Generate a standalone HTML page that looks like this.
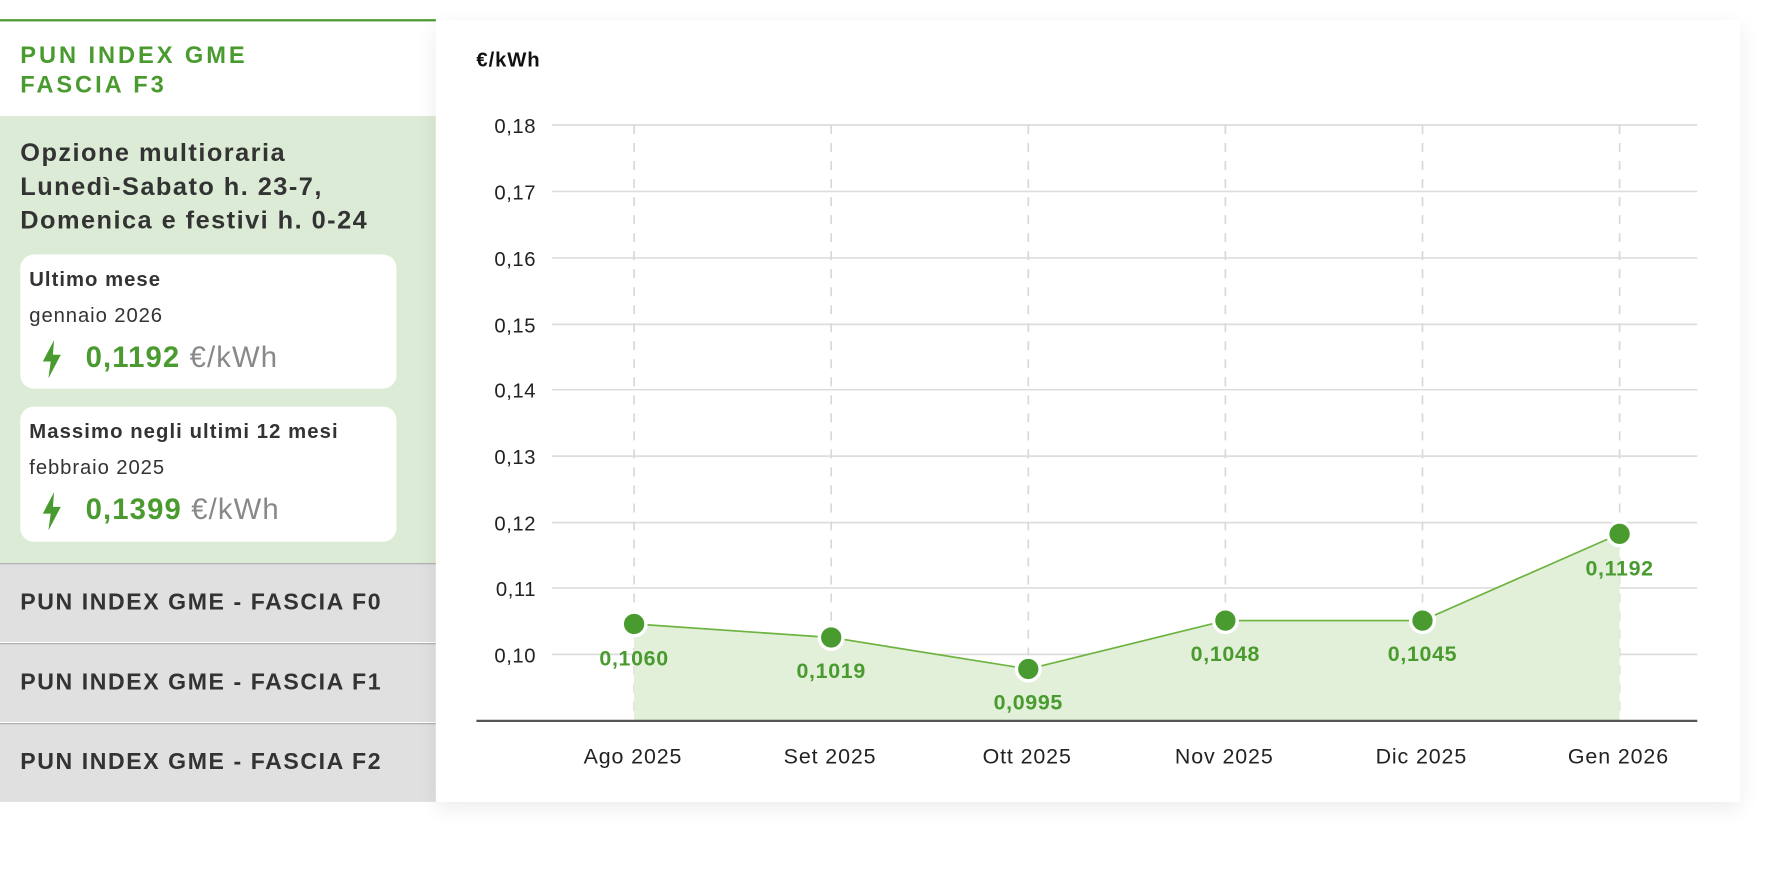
<!DOCTYPE html>
<html><head><meta charset="utf-8"><style>
html,body{margin:0;padding:0;width:1766px;height:882px;overflow:hidden;background:#fff;font-family:"Liberation Sans",sans-serif}
#w{position:absolute;left:0;top:0;width:1568px;height:783px;transform:scale(1.12628);transform-origin:0 0}
.a{position:absolute}
.t{font-weight:bold;color:#333}
.card{position:absolute;left:18px;width:334px;background:#fff;border-radius:12px}
.row{position:absolute;left:0;width:387px;height:70px;background:#e0e0e0;border-top:1.5px solid #aaa;box-sizing:border-box}
.row div{position:absolute;left:18px;top:22px;font-size:20.5px;font-weight:bold;color:#333;letter-spacing:1.4px}
</style></head><body><div id="w">
<div class="a" style="left:0;top:17px;width:387px;height:2px;background:#4a9b2f"></div>
<div class="a" style="left:18px;top:37px;font-size:21px;font-weight:bold;color:#4a9b2f;letter-spacing:2.6px;line-height:26px">PUN INDEX GME<br>FASCIA F3</div>
<div class="a" style="left:0;top:103px;width:387px;height:397px;background:#dcebd6"></div>
<div class="a t" style="left:18px;top:121px;font-size:22.5px;line-height:30px;letter-spacing:1.3px">Opzione multioraria<br>Lunedì-Sabato h. 23-7,<br>Domenica e festivi h. 0-24</div>
<div class="card" style="top:226px;height:119px">
<div class="a t" style="left:8px;top:12px;font-size:18px;letter-spacing:0.9px">Ultimo mese</div>
<div class="a" style="left:8px;top:44px;font-size:18px;color:#333;letter-spacing:0.8px">gennaio 2026</div>
<svg class="a" style="left:18px;top:76px" width="20" height="34" viewBox="0 0 20 34"><path d="M12 0 L2 19 H9 L7 34 L18 13 H11 Z" fill="#4a9b2f"/></svg>
<div class="a" style="left:58px;top:76px;font-size:26px;color:#888;letter-spacing:1px"><b style="color:#4a9b2f">0,1192</b> €/kWh</div>
</div>
<div class="card" style="top:361px;height:120px">
<div class="a t" style="left:8px;top:12px;font-size:18px;letter-spacing:0.95px">Massimo negli ultimi 12 mesi</div>
<div class="a" style="left:8px;top:44px;font-size:18px;color:#333;letter-spacing:0.8px">febbraio 2025</div>
<svg class="a" style="left:18px;top:76px" width="20" height="34" viewBox="0 0 20 34"><path d="M12 0 L2 19 H9 L7 34 L18 13 H11 Z" fill="#4a9b2f"/></svg>
<div class="a" style="left:58px;top:76px;font-size:26px;color:#888;letter-spacing:1px"><b style="color:#4a9b2f">0,1399</b> €/kWh</div>
</div>
<div class="row" style="top:500px"><div>PUN INDEX GME - FASCIA F0</div></div>
<div class="row" style="top:571px"><div>PUN INDEX GME - FASCIA F1</div></div>
<div class="row" style="top:642px"><div>PUN INDEX GME - FASCIA F2</div></div>
<div class="a" style="left:387px;top:18px;width:1158px;height:694px;background:#fff;box-shadow:0 6px 18px rgba(0,0,0,0.08)"></div>
<svg class="a" style="left:0;top:0" width="1568" height="783" font-family="Liberation Sans,sans-serif">
<text x="423" y="59" font-size="18" font-weight="bold" fill="#111" letter-spacing="0.8">€/kWh</text>
<g stroke="#ddd" stroke-width="1.5">
<line x1="490" x2="1507" y1="111" y2="111"/><line x1="490" x2="1507" y1="170" y2="170"/><line x1="490" x2="1507" y1="229" y2="229"/><line x1="490" x2="1507" y1="288" y2="288"/><line x1="490" x2="1507" y1="346" y2="346"/><line x1="490" x2="1507" y1="405" y2="405"/><line x1="490" x2="1507" y1="464" y2="464"/><line x1="490" x2="1507" y1="522" y2="522"/><line x1="490" x2="1507" y1="581" y2="581"/>
</g>
<g stroke="#d8d8d8" stroke-width="1.5" stroke-dasharray="8,8">
<line x1="563" x2="563" y1="111" y2="640"/><line x1="738" x2="738" y1="111" y2="640"/><line x1="913" x2="913" y1="111" y2="640"/><line x1="1088" x2="1088" y1="111" y2="640"/><line x1="1263" x2="1263" y1="111" y2="640"/><line x1="1438" x2="1438" y1="111" y2="640"/>
</g>
<g font-size="18" fill="#222" text-anchor="end" letter-spacing="0.5">
<text x="476" y="118">0,18</text><text x="476" y="177">0,17</text><text x="476" y="236">0,16</text><text x="476" y="295">0,15</text><text x="476" y="353">0,14</text><text x="476" y="412">0,13</text><text x="476" y="471">0,12</text><text x="476" y="529">0,11</text><text x="476" y="588">0,10</text>
</g>
<path d="M563 554 L738 566 L913 594 L1088 551 L1263 551 L1438 474 L1438 640 L563 640 Z" fill="#e2efd9"/>
<polyline points="563,554 738,566 913,594 1088,551 1263,551 1438,474" fill="none" stroke="#6db33f" stroke-width="1.5"/>
<line x1="423" x2="1507" y1="640" y2="640" stroke="#555" stroke-width="2"/>
<g fill="#4a9b2f" stroke="#fff" stroke-width="3">
<circle cx="563" cy="554" r="10.5"/><circle cx="738" cy="566" r="10.5"/><circle cx="913" cy="594" r="10.5"/><circle cx="1088" cy="551" r="10.5"/><circle cx="1263" cy="551" r="10.5"/><circle cx="1438" cy="474" r="10.5"/>
</g>
<g font-size="19" font-weight="bold" fill="#4a9b2f" text-anchor="middle" letter-spacing="0.6">
<text x="563" y="591">0,1060</text><text x="738" y="602">0,1019</text><text x="913" y="630">0,0995</text><text x="1088" y="587">0,1048</text><text x="1263" y="587">0,1045</text><text x="1438" y="511">0,1192</text>
</g>
<g font-size="19" fill="#222" text-anchor="middle" letter-spacing="0.8">
<text x="562" y="678">Ago 2025</text><text x="737" y="678">Set 2025</text><text x="912" y="678">Ott 2025</text><text x="1087" y="678">Nov 2025</text><text x="1262" y="678">Dic 2025</text><text x="1437" y="678">Gen 2026</text>
</g>
</svg>
</div></body></html>
